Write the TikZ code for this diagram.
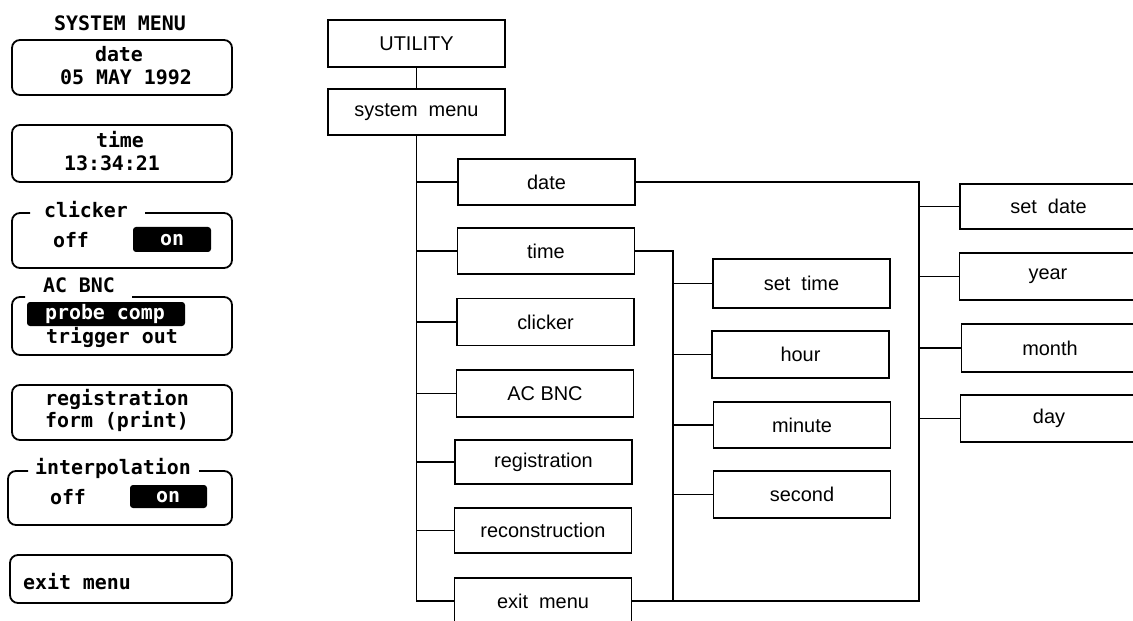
\documentclass[tikz,border=0pt]{standalone}
\usepackage{fontspec}
\setmainfont{Liberation Sans}
\newfontfamily\scrfont{DejaVu Sans Mono}
\usetikzlibrary{positioning}

\begin{document}
\begin{tikzpicture}[x=1bp,y=-1bp,
  menubox/.style={draw,line width=1.8bp,inner sep=0pt,minimum width=177bp,minimum height=46bp,
    font=\fontsize{20}{22}\selectfont},
  panel/.style={draw,line width=1.8bp,rounded corners=8bp},
  scr/.style={inner sep=0pt,font=\scrfont\bfseries\fontsize{20}{24}\selectfont},
  inv/.style={fill=black,rounded corners=3bp},
  wire/.style={line width=1.8bp}]
\useasboundingbox (0,0) rectangle (1133,621);
\clip (0,0) rectangle (1133,621);

% softkey panel on the left
\node[scr] (title) at (120,23) {SYSTEM MENU};
\draw[panel] (12,40) rectangle (232,95);
\node[scr] (kdate) at (119,54) {date};
\node[scr] (kdateval) at (126,77) {05 MAY 1992};
\draw[panel] (12,125) rectangle (232,182);
\node[scr] (ktime) at (120,140) {time};
\node[scr] (ktimeval) at (112,163) {13:34:21};
\node[scr] (kclicker) at (86,210) {clicker};
\draw[panel] (30,213) -- (12,213) -- (12,268) -- (232,268) -- (232,213) -- (145,213);
\node[scr] (kcoff) at (71,240) {off};
\fill[inv] (133,227) rectangle (211,252);
\node[scr,text=white] (kcon) at (172,240) {on};
\node[scr] (kbnc) at (79,285) {AC BNC};
\draw[panel] (25,297) -- (12,297) -- (12,355) -- (232,355) -- (232,297) -- (132,297);
\fill[inv] (27,302) rectangle (185,326);
\node[scr,text=white] (kprobe) at (105,314) {probe comp};
\node[scr] (ktrig) at (112,337) {trigger out};
\draw[panel] (12,385) rectangle (232,440);
\node[scr] (kreg) at (117,399) {registration};
\node[scr] (kform) at (117,421) {form (print)};
\node[scr] (kinterp) at (113,468) {interpolation};
\draw[panel] (28,471) -- (8,471) -- (8,525) -- (232,525) -- (232,471) -- (199,471);
\node[scr] (kioff) at (68,497) {off};
\fill[inv] (130,485) rectangle (207,508);
\node[scr,text=white] (kion) at (168,497) {on};
\draw[panel] (10,555) rectangle (232,603);
\node[scr] (kexit) at (77,582) {exit menu};

% menu tree
\node[menubox,minimum height=47bp] (utility) at (416.5,43.5) {UTILITY};
\node[menubox] (sysmenu) at (416.5,112) {system~ menu};
\node[menubox] (date) at (546.5,182) {date};
\node[menubox] (time) at (546,251) {time};
\node[menubox,minimum height=47bp] (clicker) at (545.5,322) {clicker};
\node[menubox,minimum height=47bp] (acbnc) at (545,393.5) {AC BNC};
\node[menubox,minimum height=44bp] (registration) at (543.5,462) {registration};
\node[menubox,minimum height=45bp] (reconstruction) at (543,530.5) {reconstruction};
\node[menubox] (exitmenu) at (543,601) {exit~ menu};
\node[menubox,minimum height=49bp] (settime) at (801.5,283.5) {set~ time};
\node[menubox,minimum height=47bp] (hour) at (800.5,354.5) {hour};
\node[menubox] (minute) at (802,425) {minute};
\node[menubox,minimum height=47bp] (second) at (802,494.5) {second};
\node[menubox,minimum height=45bp] (setdate) at (1048.5,206.5) {set~ date};
\node[menubox,minimum height=47bp] (year) at (1048,276.5) {year};
\node[menubox,minimum height=48bp] (month) at (1050,348) {month};
\node[menubox,minimum height=47bp] (day) at (1049,418.5) {day};
\coordinate (tbus) at (673,0);
\coordinate (dbus) at (919,0);

\draw[wire] (utility)--(sysmenu);
\draw[wire] (sysmenu.south) |- (exitmenu.west);
\foreach \n in {date,time,clicker,acbnc,registration,reconstruction}
  \draw[wire] (sysmenu.south |- \n.west)--(\n.west);
\draw[wire] (time.east) -| (tbus |- exitmenu.east);
\foreach \n in {settime,hour,minute,second}
  \draw[wire] (tbus |- \n.west)--(\n.west);
\draw[wire] (date.east) -| (dbus |- exitmenu.east)--(exitmenu.east);
\foreach \n in {setdate,year,month,day}
  \draw[wire] (dbus |- \n.west)--(\n.west);
\end{tikzpicture}
\end{document}
